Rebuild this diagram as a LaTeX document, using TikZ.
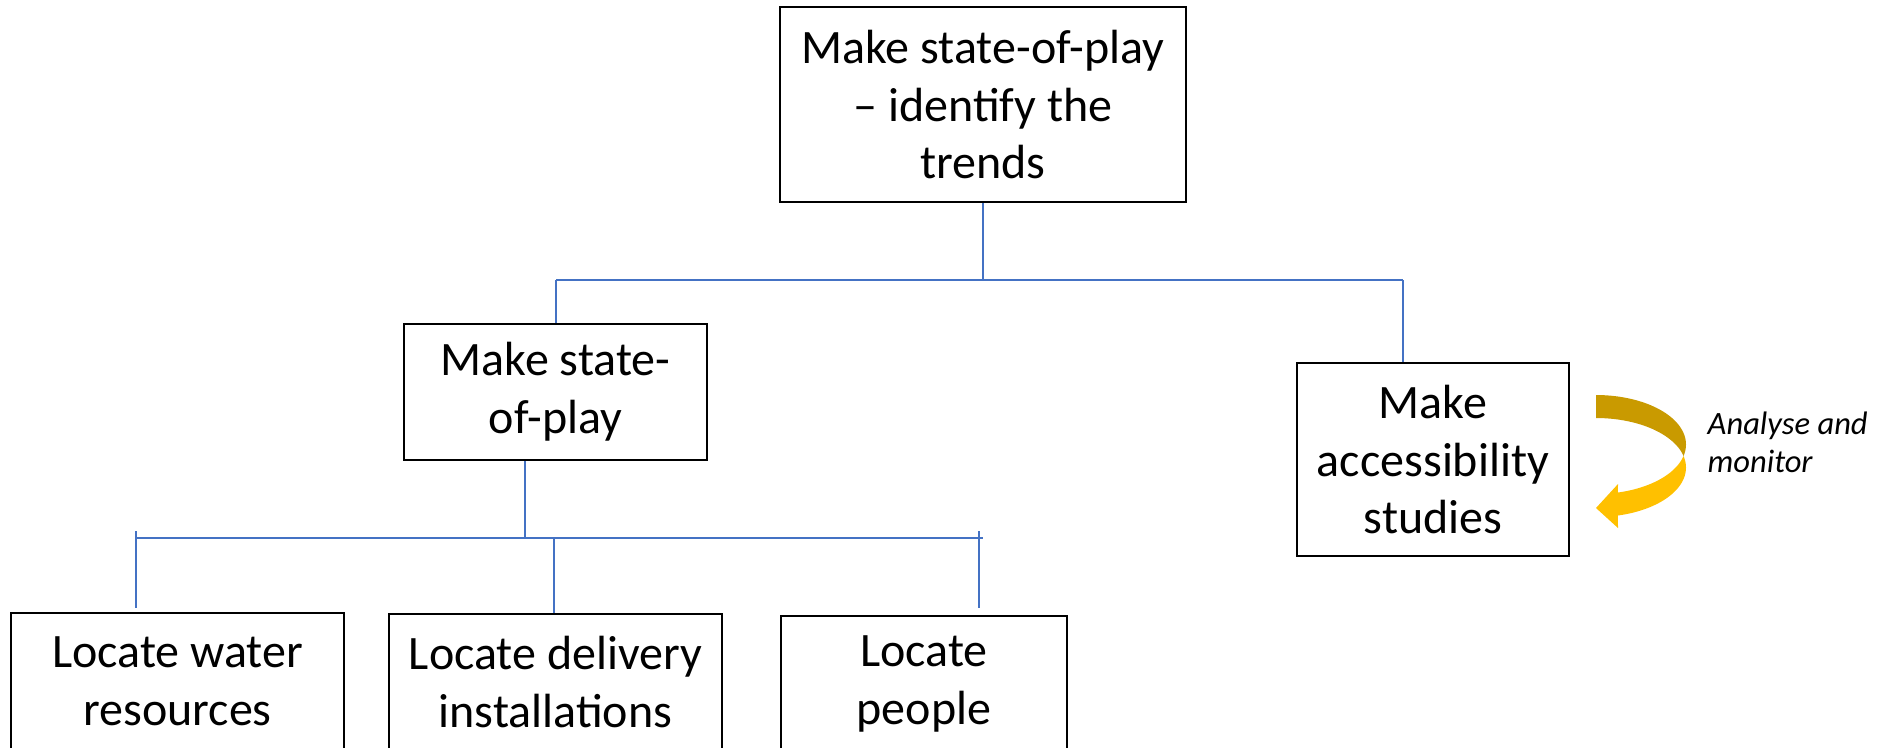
\documentclass[tikz,border=0pt]{standalone}
\usepackage{fontspec}
\setmainfont{Carlito}
\usetikzlibrary{calc}
\definecolor{conn}{RGB}{68,114,196}
\definecolor{goldD}{RGB}{201,154,0}
\definecolor{goldL}{RGB}{255,192,0}
\newcommand{\boxfont}{\fontsize{13.65pt}{16.4pt}\selectfont}
\newcommand{\notefont}{\fontsize{9.25pt}{10.9pt}\selectfont\itshape}
\begin{document}
\begin{tikzpicture}[x=0.01cm,y=-0.01cm,
  box/.style={draw=black,line width=0.55pt,fill=white,align=center,inner sep=0pt,font=\boxfont},
  thinlink/.style={draw=conn,line width=0.35pt},
  thicklink/.style={draw=conn,line width=0.6pt},
  note/.style={align=left,inner sep=0pt,font=\notefont,anchor=west}]
\useasboundingbox (0,0) rectangle (1881,747);
% boxes
\node[box,minimum width=4.06cm,minimum height=1.95cm] (top) at (983,104.5) {Make state-of-play\\– identify the\\trends};
\node[box,minimum width=3.03cm,minimum height=1.36cm] (mid) at (555.5,392) {Make state-\\of-play};
\node[box,minimum width=2.72cm,minimum height=1.93cm] (rb) at (1433,459.5) {Make\\accessibility\\studies};
\node[box,minimum width=3.33cm,minimum height=1.36cm] (b1) at (177.5,681) {Locate water\\resources};
\node[box,minimum width=3.33cm,minimum height=1.36cm] (b2) at (555.5,682) {Locate delivery\\installations};
\node[box,minimum width=2.86cm,minimum height=1.36cm] (b3) at (924,684) {Locate\\people};
% upper connectors
\coordinate (busL) at (556,280);
\coordinate (busR) at (1403,280);
\draw[thinlink] (top.south) -- (top.south |- busL);
\draw[thinlink] (busL) -- (busR);
\draw[thinlink] (busL) -- (busL |- mid.north);
\draw[thinlink] (busR) -- (busR |- rb.north);
% lower connectors
\coordinate (mdrop) at (525,538);
\coordinate (lbL) at (136,538);
\coordinate (lbR) at (983,538);
\coordinate (tL) at (136,531);
\coordinate (tR) at (979,531);
\coordinate (m2) at (554,537);
\draw[thicklink] (mdrop |- mid.south) -- (mdrop);
\draw[thicklink] (lbL) -- (lbR);
\draw[thicklink,shorten >=0.04cm] (tL) -- (tL |- b1.north);
\draw[thicklink] (m2) -- (m2 |- b2.north);
\draw[thicklink,shorten >=0.07cm] (tR) -- (tR |- b3.north);
% curved arrow
\fill[goldD] plot[domain=90:-13.4,samples=40] ({1596+90*cos(\x)},{444.5-49.5*sin(\x)})
  -- plot[domain=13.4:90,samples=40] ({1596+90*cos(\x)},{467.5-49.5*sin(\x)}) -- cycle;
\fill[goldL] plot[domain=13.4:-75.9,samples=40] ({1596+90*cos(\x)},{467.5-49.5*sin(\x)})
  -- (1618,528) -- (1596,508) -- (1618,484)
  -- plot[domain=-75.9:-13.4,samples=40] ({1596+90*cos(\x)},{444.5-49.5*sin(\x)}) -- cycle;
\node[note] (lbl) at (1707,442) {Analyse and\\monitor};
\end{tikzpicture}
\end{document}
